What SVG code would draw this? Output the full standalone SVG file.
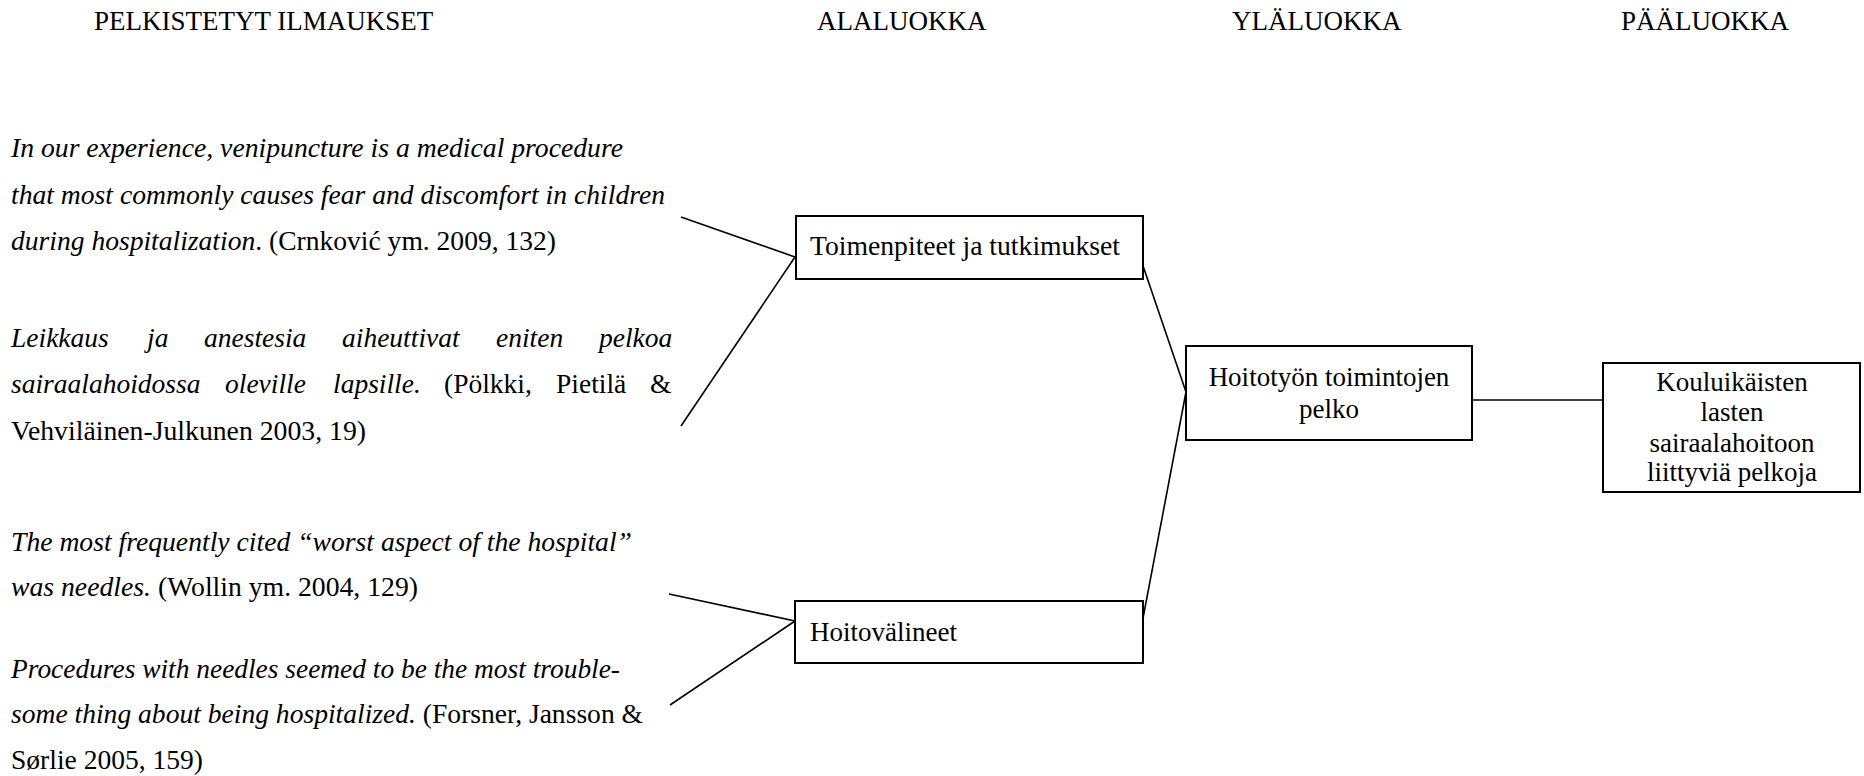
<svg xmlns="http://www.w3.org/2000/svg" width="1864" height="776" viewBox="0 0 1864 776">
<style>
text{font-family:"Liberation Serif","Times New Roman",serif;font-size:27px;fill:#000}
.q{font-size:27.5px}
.i{font-style:italic}
.box{fill:#fff;stroke:#000;stroke-width:2}
.c{fill:none;stroke:#000;stroke-width:1.6}
.m{text-anchor:middle}
</style>
<rect width="1864" height="776" fill="#fff"/>
<g id="headers">
<text x="94" y="30">PELKISTETYT ILMAUKSET</text>
<text x="817" y="30">ALALUOKKA</text>
<text x="1232" y="30">YLÄLUOKKA</text>
<text x="1621" y="30">PÄÄLUOKKA</text>
</g>
<g id="quote1">
<text x="11" y="157" class="q i" textLength="612" lengthAdjust="spacingAndGlyphs">In our experience, venipuncture is a medical procedure</text>
<text x="11" y="204" class="q i" textLength="654" lengthAdjust="spacingAndGlyphs">that most commonly causes fear and discomfort in children</text>
<text x="11" y="250" class="q" textLength="545" lengthAdjust="spacingAndGlyphs"><tspan class="i">during hospitalization</tspan>. (Crnković ym. 2009, 132)</text>
</g>
<g id="quote2">
<text y="347" class="q i"><tspan x="11">Leikkaus</tspan><tspan x="147">ja</tspan><tspan x="204">anestesia</tspan><tspan x="342">aiheuttivat</tspan><tspan x="496">eniten</tspan><tspan x="599">pelkoa</tspan></text>
<text y="393" class="q"><tspan x="11" class="i">sairaalahoidossa</tspan><tspan x="225" class="i">oleville</tspan><tspan x="333" class="i">lapsille.</tspan><tspan x="444">(Pölkki,</tspan><tspan x="556">Pietilä</tspan><tspan x="650">&amp;</tspan></text>
<text x="11" y="440" class="q" textLength="355" lengthAdjust="spacingAndGlyphs">Vehviläinen-Julkunen 2003, 19)</text>
</g>
<g id="quote3">
<text x="11" y="551" class="q i" textLength="621" lengthAdjust="spacingAndGlyphs">The most frequently cited “worst aspect of the hospital”</text>
<text x="11" y="596" class="q" textLength="407" lengthAdjust="spacingAndGlyphs"><tspan class="i">was needles.</tspan> (Wollin ym. 2004, 129)</text>
</g>
<g id="quote4">
<text x="11" y="678" class="q i" textLength="609" lengthAdjust="spacingAndGlyphs">Procedures with needles seemed to be the most trouble-</text>
<text x="11" y="723" class="q" textLength="632" lengthAdjust="spacingAndGlyphs"><tspan class="i">some thing about being hospitalized.</tspan> (Forsner, Jansson &amp;</text>
<text x="11" y="769" class="q" textLength="192" lengthAdjust="spacingAndGlyphs">Sørlie 2005, 159)</text>
</g>
<g id="connectors">
<line class="c" x1="681" y1="217" x2="795" y2="257"/>
<line class="c" x1="681" y1="426" x2="795" y2="257"/>
<line class="c" x1="669" y1="594" x2="795" y2="621"/>
<line class="c" x1="670" y1="705" x2="795" y2="621"/>
<line class="c" x1="1140" y1="257" x2="1186" y2="392"/>
<line class="c" x1="1140" y1="634" x2="1186" y2="392"/>
<line class="c" x1="1472" y1="400" x2="1603" y2="400"/>
</g>
<g id="node-toimenpiteet">
<rect class="box" x="796" y="216" width="347" height="63"/>
<text x="810" y="255" textLength="310" lengthAdjust="spacingAndGlyphs">Toimenpiteet ja tutkimukset</text>
</g>
<g id="node-hoitovalineet">
<rect class="box" x="795" y="601" width="348" height="62"/>
<text x="810" y="641">Hoitovälineet</text>
</g>
<g id="node-hoitotyon">
<rect class="box" x="1186" y="346" width="286" height="94"/>
<text x="1329" y="386" class="m">Hoitotyön toimintojen</text>
<text x="1329" y="418" class="m">pelko</text>
</g>
<g id="node-kouluikaisten">
<rect class="box" x="1603" y="363" width="257" height="129"/>
<text x="1732" y="391" class="m">Kouluikäisten</text>
<text x="1732" y="421" class="m">lasten</text>
<text x="1732" y="452" class="m">sairaalahoitoon</text>
<text x="1732" y="481" class="m">liittyviä pelkoja</text>
</g>
</svg>
